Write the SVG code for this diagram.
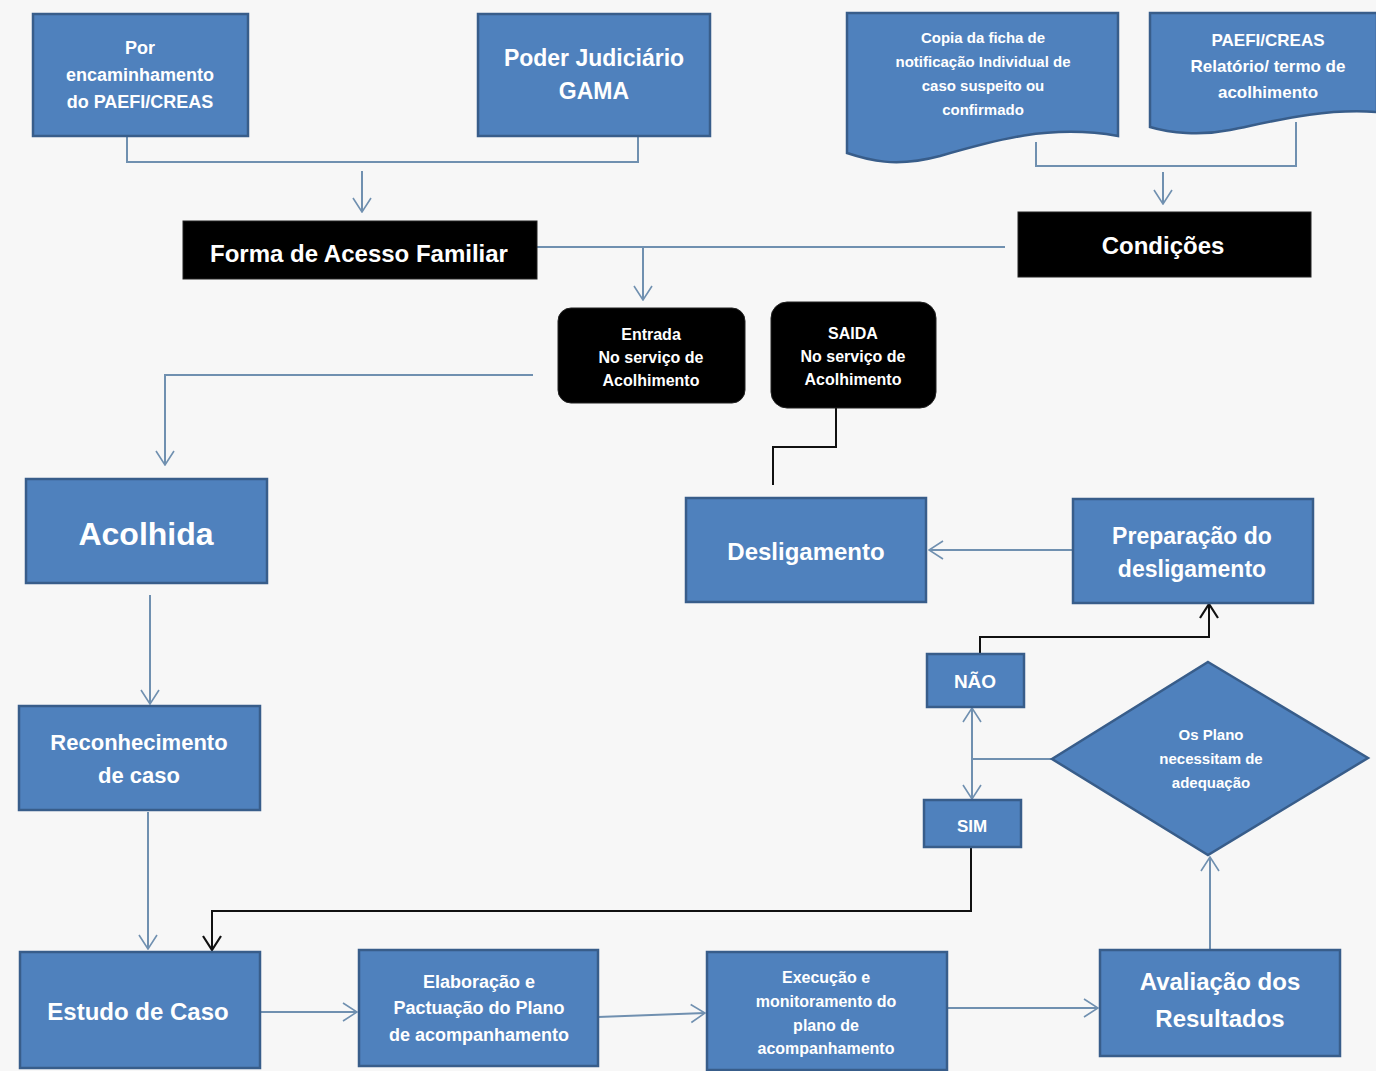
<svg xmlns="http://www.w3.org/2000/svg" width="1376" height="1071" viewBox="0 0 1376 1071">
<style>
.bx{fill:#4f81bd;stroke:#385d8a;stroke-width:2.5}
.bk{fill:#000;stroke:#222;stroke-width:1}
.t{font-family:"Liberation Sans",Arial,sans-serif;font-weight:bold;fill:#fff;text-anchor:middle}
.c{fill:none;stroke:#7090b0;stroke-width:2}
.cb{fill:none;stroke:#111;stroke-width:2}
</style>
<defs>
<marker id="a" viewBox="0 0 16 20" refX="15" refY="10" markerWidth="16" markerHeight="20" markerUnits="userSpaceOnUse" orient="auto">
<path d="M1,1 L15,10 L1,19" fill="none" stroke="#7090b0" stroke-width="1.6"/>
</marker>
<marker id="ab" viewBox="0 0 16 20" refX="15" refY="10" markerWidth="16" markerHeight="20" markerUnits="userSpaceOnUse" orient="auto">
<path d="M1,1 L15,10 L1,19" fill="none" stroke="#111" stroke-width="2.2"/>
</marker>
</defs>
<rect width="1376" height="1071" fill="#f7f7f7"/>

<g id="connectors">
<path class="c" d="M127,136 V162 H638 V136"/>
<path class="c" d="M362,171 V212" marker-end="url(#a)"/>
<path class="c" d="M1036,142 V166 H1296 V122"/>
<path class="c" d="M1163,172 V204" marker-end="url(#a)"/>
<path class="c" d="M537,247 H1005"/>
<path class="c" d="M643,247 V300" marker-end="url(#a)"/>
<path class="c" d="M533,375 H165 V465" marker-end="url(#a)"/>
<path class="cb" d="M836,408 V447 H773 V485"/>
<path class="c" d="M150,595 V704" marker-end="url(#a)"/>
<path class="c" d="M148,812 V949" marker-end="url(#a)"/>
<path class="cb" d="M971,835 V911 H212 V950" marker-end="url(#ab)"/>
<path class="c" d="M260,1012 H357" marker-end="url(#a)"/>
<path class="c" d="M598,1017 L705,1013" marker-end="url(#a)"/>
<path class="c" d="M948,1008 H1098" marker-end="url(#a)"/>
<path class="c" d="M1210,950 V857" marker-end="url(#a)"/>
<path class="c" d="M1052,759 H972"/>
<path class="c" d="M972,759 V708" marker-end="url(#a)"/>
<path class="c" d="M972,759 V799" marker-end="url(#a)"/>
<path class="cb" d="M980,653 V637 H1209 V604" marker-end="url(#ab)"/>
<path class="c" d="M1072,550 H929" marker-end="url(#a)"/>
</g>

<g id="n-encaminhamento">
<rect class="bx" x="33" y="14" width="215" height="122"/>
<text class="t" font-size="18"><tspan x="140" y="54">Por</tspan><tspan x="140" y="81">encaminhamento</tspan><tspan x="140" y="108">do PAEFI/CREAS</tspan></text>
</g>
<g id="n-poder">
<rect class="bx" x="478" y="14" width="232" height="122"/>
<text class="t" font-size="23"><tspan x="594" y="66">Poder Judiciário</tspan><tspan x="594" y="99">GAMA</tspan></text>
</g>
<g id="n-copia">
<path class="bx" d="M847,13 H1118 V136 C1050,124 995,140 940,156 C895,168 868,160 847,153 Z"/>
<text class="t" font-size="15"><tspan x="983" y="43">Copia da ficha de</tspan><tspan x="983" y="67">notificação  Individual de</tspan><tspan x="983" y="91">caso suspeito ou</tspan><tspan x="983" y="115">confirmado</tspan></text>
</g>
<g id="n-paefi">
<path class="bx" d="M1150,13 H1377 V112 C1320,108 1270,122 1230,130 C1200,136 1170,133 1150,127 Z"/>
<text class="t" font-size="17"><tspan x="1268" y="46">PAEFI/CREAS</tspan><tspan x="1268" y="72">Relatório/ termo de</tspan><tspan x="1268" y="98">acolhimento</tspan></text>
</g>
<g id="n-forma">
<rect class="bk" x="183" y="221" width="354" height="58"/>
<text class="t" x="359" y="262" font-size="24">Forma de Acesso Familiar</text>
</g>
<g id="n-condicoes">
<rect class="bk" x="1018" y="212" width="293" height="65"/>
<text class="t" x="1163" y="254" font-size="24">Condições</text>
</g>
<g id="n-entrada">
<rect class="bk" x="558" y="308" width="187" height="95" rx="13"/>
<text class="t" font-size="16"><tspan x="651" y="340">Entrada</tspan><tspan x="651" y="363">No serviço de</tspan><tspan x="651" y="386">Acolhimento</tspan></text>
</g>
<g id="n-saida">
<rect class="bk" x="771" y="302" width="165" height="106" rx="16"/>
<text class="t" font-size="16"><tspan x="853" y="339">SAIDA</tspan><tspan x="853" y="362">No serviço de</tspan><tspan x="853" y="385">Acolhimento</tspan></text>
</g>
<g id="n-acolhida">
<rect class="bx" x="26" y="479" width="241" height="104"/>
<text class="t" x="146" y="545" font-size="32">Acolhida</text>
</g>
<g id="n-desligamento">
<rect class="bx" x="686" y="498" width="240" height="104"/>
<text class="t" x="806" y="560" font-size="24">Desligamento</text>
</g>
<g id="n-preparacao">
<rect class="bx" x="1073" y="499" width="240" height="104"/>
<text class="t" font-size="23"><tspan x="1192" y="544">Preparação do</tspan><tspan x="1192" y="577">desligamento</tspan></text>
</g>
<g id="n-reconhecimento">
<rect class="bx" x="19" y="706" width="241" height="104"/>
<text class="t" font-size="22"><tspan x="139" y="750">Reconhecimento</tspan><tspan x="139" y="783">de  caso</tspan></text>
</g>
<g id="n-nao">
<rect class="bx" x="927" y="654" width="97" height="53"/>
<text class="t" x="975" y="688" font-size="19">NÃO</text>
</g>
<g id="n-sim">
<rect class="bx" x="924" y="800" width="97" height="47"/>
<text class="t" x="972" y="832" font-size="17">SIM</text>
</g>
<g id="n-decisao">
<path class="bx" d="M1208,662 L1368,758 L1208,855 L1052,759 Z"/>
<text class="t" font-size="15"><tspan x="1211" y="740">Os Plano</tspan><tspan x="1211" y="764">necessitam de</tspan><tspan x="1211" y="788">adequação</tspan></text>
</g>
<g id="n-estudo">
<rect class="bx" x="20" y="952" width="240" height="116"/>
<text class="t" x="138" y="1020" font-size="24">Estudo de Caso</text>
</g>
<g id="n-elaboracao">
<rect class="bx" x="359" y="950" width="239" height="116"/>
<text class="t" font-size="18"><tspan x="479" y="988">Elaboração e</tspan><tspan x="479" y="1014">Pactuação do Plano</tspan><tspan x="479" y="1041">de acompanhamento</tspan></text>
</g>
<g id="n-execucao">
<rect class="bx" x="707" y="952" width="240" height="118"/>
<text class="t" font-size="16"><tspan x="826" y="983">Execução e</tspan><tspan x="826" y="1007">monitoramento do</tspan><tspan x="826" y="1031">plano de</tspan><tspan x="826" y="1054">acompanhamento</tspan></text>
</g>
<g id="n-avaliacao">
<rect class="bx" x="1100" y="950" width="240" height="106"/>
<text class="t" font-size="24"><tspan x="1220" y="990">Avaliação dos</tspan><tspan x="1220" y="1027">Resultados</tspan></text>
</g>
</svg>
